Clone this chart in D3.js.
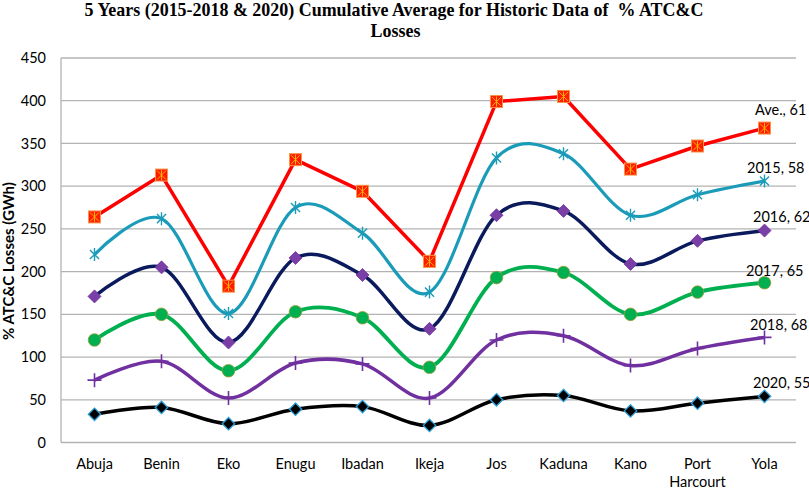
<!DOCTYPE html>
<html><head><meta charset="utf-8">
<script src="https://cdn.jsdelivr.net/npm/d3@7"></script>
<style>body{margin:0;background:#fff}svg{display:block}</style>
</head><body>
<svg id="c" width="809" height="490"></svg>
<script>
const categories = ["Abuja","Benin","Eko","Enugu","Ibadan","Ikeja","Jos","Kaduna","Kano","Port Harcourt","Yola"];
const yTicks = [0,50,100,150,200,250,300,350,400,450];
const seriesNames = ["Ave.","2015","2016","2017","2018","2020"];
const seriesLabels = ["Ave., 61","2015, 58","2016, 62","2017, 65","2018, 68","2020, 55"];
const aveValues  = [264,313,183,331,294,212,399,405,320,347,368];
const v2015 = [220,262,151,275,245,176,333,338,266,290,306];
const v2016 = [171,205,117,216,196,133,266,271,209,236,248];
const v2017 = [120,150,84,153,146,88,193,199,150,176,187];
const v2018 = [73,95,52,93,92,52,120,125,90,110,123];
const v2020 = [33,41,22,39,42,20,50,55,37,46,54];

const svg = d3.select("#c");
const x = d3.scaleBand().domain(categories).range([61, 798]);
const y = d3.scaleLinear().domain([0,450]).range([442.5, 58]);
const cx = d => x(d) + x.bandwidth()/2;

// title
const title = svg.append("g").attr("font-family","'Liberation Serif', 'Times New Roman', serif").attr("font-weight","bold").attr("font-size","18px").attr("fill","#000");
const t1 = title.append("text").attr("x",394).attr("y",16).attr("text-anchor","middle").text("5 Years (2015-2018 & 2020) Cumulative Average for Historic Data of  % ATC&C").style("white-space","pre");
const t2 = title.append("text").attr("x",395.5).attr("y",37).attr("text-anchor","middle").text("Losses");
const w1 = t1.node().getComputedTextLength();
const sx = 619 / w1;
t1.attr("transform",`translate(394,0) scale(${sx},1) translate(-394,0)`);
t2.attr("transform",`translate(395.5,0) scale(${sx},1) translate(-395.5,0)`);

// gridlines
svg.append("g").selectAll("line").data(yTicks.filter(d=>d>0)).join("line")
  .attr("x1",61).attr("x2",796).attr("y1",d=>y(d)).attr("y2",d=>y(d))
  .attr("stroke","#b3b3b3").attr("stroke-width",1.3);
svg.append("line").attr("x1",61).attr("x2",61).attr("y1",58).attr("y2",y(0)).attr("stroke","#b3b3b3").attr("stroke-width",1.3);
svg.append("line").attr("x1",61).attr("x2",796).attr("y1",y(0)).attr("y2",y(0)).attr("stroke","#b3b3b3").attr("stroke-width",1.3);

const font = "Lato, 'Open Sans', sans-serif";
const yAxis = d3.axisLeft(y).tickValues(yTicks).tickSize(0).tickPadding(15);
const ya = svg.append("g").attr("transform","translate(61,0)").call(yAxis);
ya.select(".domain").remove();
ya.selectAll("text").attr("font-family",font).attr("font-size","14.5px").attr("fill","#000");

const xl = svg.append("g").attr("font-family",font).attr("font-size","14.5px").attr("fill","#000");
categories.forEach(c=>{
  const parts = c.split(" ");
  const t = xl.append("text").attr("x",cx(c)).attr("y",469).attr("text-anchor","middle");
  parts.forEach((p,i)=>t.append("tspan").attr("x",cx(c)).attr("dy", i===0?0:18).text(p));
});

const yt = svg.append("text").attr("transform","translate(14,261) rotate(-90)").attr("text-anchor","middle")
  .attr("font-family",font).attr("font-weight","bold").attr("font-size","15px").text("% ATC&C Losses (GWh)");

const smooth = d3.line().x((d,i)=>cx(categories[i])).y(d=>y(d)).curve(d3.curveCardinal.tension(0));
const straight = d3.line().x((d,i)=>cx(categories[i])).y(d=>y(d));

const plot = svg.append("g");
function drawLine(vals, gen, color, w){
  plot.append("path").attr("d",gen(vals)).attr("fill","none").attr("stroke",color).attr("stroke-width",w).attr("stroke-linejoin","round");
}
drawLine(v2020, smooth, "#000000", 3.5);
drawLine(v2018, smooth, "#7030a0", 3.5);
drawLine(v2017, smooth, "#00b050", 3.8);
drawLine(v2016, smooth, "#0b1a5c", 3.5);
drawLine(v2015, smooth, "#1a9bb8", 3.2);
drawLine(aveValues, straight, "#ff0000", 3.5);

const mk = svg.append("g");
const diamond = (X,Y,r)=>`M${X},${Y-r}L${X+r},${Y}L${X},${Y+r}L${X-r},${Y}Z`;
v2020.forEach((v,i)=>{
  mk.append("path").attr("d",diamond(cx(categories[i]),y(v),6.2))
    .attr("fill","#000").attr("stroke","#2a9fd8").attr("stroke-width",1.3);
});
v2018.forEach((v,i)=>{
  const X=cx(categories[i]), Y=y(v);
  mk.append("path").attr("d",`M${X-7},${Y}H${X+7}M${X},${Y-7}V${Y+7}`).attr("stroke","#7030a0").attr("stroke-width",1.6);
});
v2017.forEach((v,i)=>{
  mk.append("circle").attr("cx",cx(categories[i])).attr("cy",y(v)).attr("r",6.3).attr("fill","#00b050").attr("stroke","#9a9a3a").attr("stroke-width",0.8);
});
v2016.forEach((v,i)=>{
  mk.append("path").attr("d",diamond(cx(categories[i]),y(v),6.5))
    .attr("fill","#7a3fa6").attr("stroke","#7030a0").attr("stroke-width",0.8);
});
v2015.forEach((v,i)=>{
  const X=cx(categories[i]), Y=y(v), r=6.5;
  mk.append("path").attr("d",`M${X-r*0.7},${Y-r*0.7}L${X+r*0.7},${Y+r*0.7}M${X-r*0.7},${Y+r*0.7}L${X+r*0.7},${Y-r*0.7}M${X},${Y-r}V${Y+r}`).attr("stroke","#1a9bb8").attr("stroke-width",1.4).attr("fill","none");
});
aveValues.forEach((v,i)=>{
  const X=cx(categories[i]), Y=y(v), s=6;
  mk.append("rect").attr("x",X-s).attr("y",Y-s).attr("width",2*s).attr("height",2*s).attr("fill","#ff1a00").attr("stroke","#f79646").attr("stroke-width",1);
  const r=4.5;
  mk.append("path").attr("d",`M${X-r},${Y-r}L${X+r},${Y+r}M${X-r},${Y+r}L${X+r},${Y-r}M${X},${Y-r-0.5}V${Y+r+0.5}`).attr("stroke","#ffb300").attr("stroke-width",1).attr("fill","none");
});

const lblPos = [[755,115],[747,173],[753,222],[746,276],[750,330],[753,388]];
const lg = svg.append("g").attr("font-family",font).attr("font-size","14.5px").attr("fill","#000");
seriesLabels.forEach((s,i)=>{
  lg.append("text").attr("x",lblPos[i][0]).attr("y",lblPos[i][1]).text(s);
});
</script>
</body></html>
